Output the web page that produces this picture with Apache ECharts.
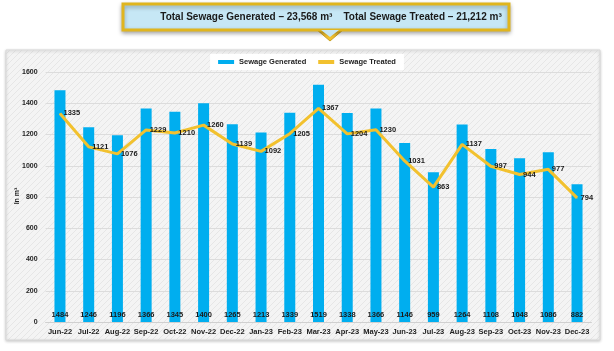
<!DOCTYPE html>
<html>
<head>
<meta charset="utf-8">
<script src="https://cdn.jsdelivr.net/npm/echarts@6/dist/echarts.min.js"></script>
<style>
  html, body { margin: 0; padding: 0; background: #fff; }
  #main { width: 614px; height: 351px; }
</style>
</head>
<body>
<div id="main"></div>
<script>
  // data
  var months = ['Jun-22','Jul-22','Aug-22','Sep-22','Oct-22','Nov-22','Dec-22','Jan-23','Feb-23','Mar-23',
                'Apr-23','May-23','Jun-23','Jul-23','Aug-23','Sep-23','Oct-23','Nov-23','Dec-23'];
  var generated = [1484,1246,1196,1366,1345,1400,1265,1213,1339,1519,1338,1366,1146,959,1264,1108,1048,1086,882];
  var treated = [1335,1121,1076,1229,1210,1260,1139,1092,1205,1367,1204,1230,1031,863,1137,997,944,977,794];
  var yTicks = [0, 200, 400, 600, 800, 1000, 1200, 1400, 1600];
  var headline = 'Total Sewage Generated \u2013 23,568 m\u00B3    Total Sewage Treated \u2013 21,212 m\u00B3';

  // light hatch for the panel background
  var hatch = document.createElement('canvas');
  hatch.width = 6; hatch.height = 6;
  var hc = hatch.getContext('2d');
  hc.fillStyle = '#f4f4f4';
  hc.fillRect(0, 0, 6, 6);
  hc.strokeStyle = '#e6e6e6';
  hc.lineWidth = 1;
  hc.beginPath();
  hc.moveTo(0, 6); hc.lineTo(6, 0);
  hc.stroke();

  var chart = echarts.init(document.getElementById('main'));
  var font = 'Arial, "Liberation Sans", sans-serif';

  chart.setOption({
    backgroundColor: '#fff',
    animation: false,
    textStyle: { fontFamily: font },
    graphic: [
      // chart panel
      { type: 'rect', z: -10, silent: true,
        shape: { x: 6, y: 50, width: 594, height: 290 },
        style: { fill: { image: hatch, repeat: 'repeat' }, stroke: '#d9d9d9', lineWidth: 1,
                 shadowBlur: 3, shadowColor: 'rgba(0,0,0,0.2)', shadowOffsetY: 1 } },
      // callout arrow
      { type: 'polygon', z: 10, silent: true,
        shape: { points: [[316, 29], [344, 29], [330, 41]] },
        style: { fill: '#f2c12e', stroke: '#c9a227', lineWidth: 1 } },
      // callout box
      { type: 'rect', z: 11, silent: true,
        shape: { x: 123, y: 4, width: 386, height: 26 },
        style: { fill: '#c6e7f5', stroke: '#e0b51e', lineWidth: 3,
                 shadowBlur: 4, shadowColor: 'rgba(0,0,0,0.3)', shadowOffsetY: 2 } },
      { type: 'polygon', z: 12, silent: true,
        shape: { points: [[321, 30], [339, 30], [330, 37]] },
        style: { fill: '#c6e7f5' } },
      { type: 'text', z: 13, silent: true,
        style: { x: 331, y: 17, text: headline, align: 'center', verticalAlign: 'middle',
                 font: 'bold 10px ' + font, fill: '#1a1a1a' } },
      // y axis title
      { type: 'text', z: 5, silent: true, rotation: Math.PI / 2, x: 17, y: 196,
        style: { text: 'In m\u00B3', align: 'center', verticalAlign: 'middle',
                 font: 'bold 7px ' + font, fill: '#222' } }
    ],
    legend: {
      top: 54,
      left: 'center',
      itemWidth: 16,
      itemHeight: 4,
      itemGap: 12,
      backgroundColor: '#fff',
      padding: [4, 8],
      textStyle: { fontSize: 7.5, fontWeight: 'bold', color: '#222' },
      data: [
        { name: 'Sewage Generated', icon: 'rect' },
        { name: 'Sewage Treated', icon: 'rect' }
      ]
    },
    grid: { left: 45.6, right: 22.6, top: 72, bottom: 29, containLabel: false },
    xAxis: {
      type: 'category',
      data: months,
      axisLine: { show: true, lineStyle: { color: '#d0d0d0' } },
      axisTick: { show: false },
      axisLabel: { fontSize: 7.5, fontWeight: 'bold', color: '#222', margin: 6, interval: 0 }
    },
    yAxis: {
      type: 'value',
      min: yTicks[0],
      max: yTicks[yTicks.length - 1],
      interval: 200,
      axisLine: { show: false },
      axisTick: { show: false },
      axisLabel: { fontSize: 7, fontWeight: 'bold', color: '#222', margin: 8,
                   formatter: function (v) { return String(v); } },
      splitLine: { lineStyle: { color: '#dcdcdc' } }
    },
    series: [
      {
        name: 'Sewage Generated',
        type: 'bar',
        data: generated,
        barWidth: 11,
        itemStyle: { color: '#00aeef' },
        label: {
          show: true,
          position: 'insideBottom',
          distance: 3,
          fontSize: 7.5,
          fontWeight: 'bold',
          color: '#1a1a1a'
        }
      },
      {
        name: 'Sewage Treated',
        type: 'line',
        data: treated,
        symbol: 'circle',
        symbolSize: 1,
        showSymbol: true,
        lineStyle: { color: '#f2c12e', width: 3 },
        itemStyle: { color: '#f2c12e' },
        label: {
          show: true,
          position: 'right',
          distance: 3,
          offset: [0, 0],
          fontSize: 7.5,
          fontWeight: 'bold',
          color: '#1a1a1a'
        },
        z: 5
      }
    ]
  });
</script>
</body>
</html>
